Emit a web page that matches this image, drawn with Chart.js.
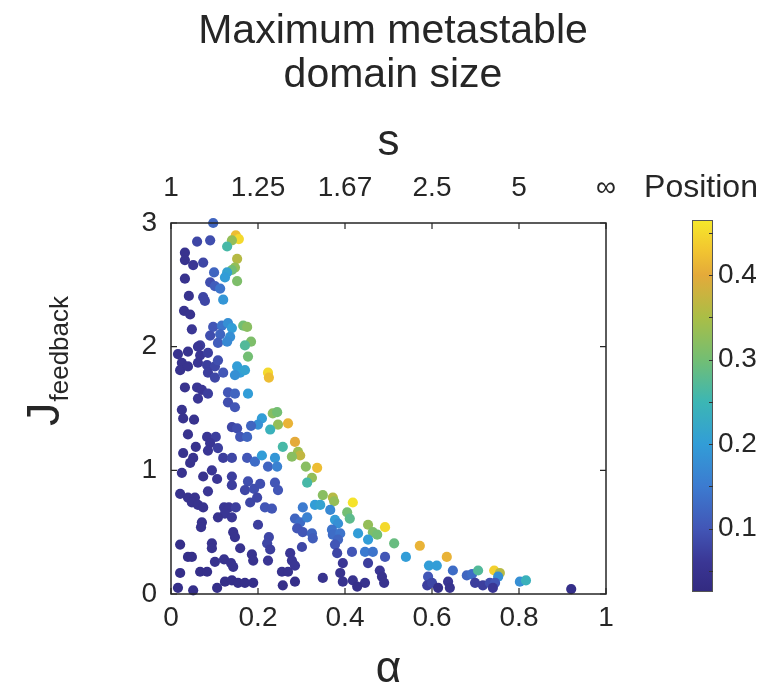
<!DOCTYPE html>
<html><head><meta charset="utf-8">
<script src="https://cdn.jsdelivr.net/npm/chart.js@4.4.0/dist/chart.umd.min.js"></script>
<style>html,body{margin:0;padding:0;background:#fff;}#wrap{width:766px;height:684px;}</style>
</head><body><div id="wrap"><canvas id="c" width="766" height="684"></canvas></div>
<script>
// ---- data ----
const alphaVals = [
 0.097,0.149,0.156,0.140,0.129,0.060,0.090,0.032,0.032,0.051,
 0.074,0.152,0.147,0.140,0.129,0.124,0.099,0.032,0.152,0.090,
 0.101,0.113,0.041,0.074,0.078,0.120,0.030,0.044,0.048,0.097,
 0.117,0.131,0.140,0.113,0.136,0.090,0.108,0.129,0.166,0.175,
 0.184,0.170,0.067,0.016,0.039,0.062,0.067,0.085,0.025,0.021,
 0.039,0.062,0.083,0.101,0.108,0.085,0.101,0.120,0.152,0.159,
 0.170,0.147,0.223,0.225,0.177,0.032,0.060,0.071,0.085,0.062,
 0.131,0.147,0.177,0.131,0.147,0.025,0.234,0.244,0.028,0.053,
 0.246,0.269,0.228,0.039,0.083,0.103,0.090,0.108,0.085,0.057,
 0.140,0.152,0.159,0.175,0.285,0.257,0.292,0.297,0.278,0.028,
 0.051,0.044,0.120,0.140,0.175,0.193,0.209,0.223,0.239,0.244,
 0.310,0.336,0.094,0.025,0.074,0.106,0.140,0.140,0.177,0.170,
 0.191,0.239,0.246,0.324,0.313,0.021,0.039,0.055,0.048,0.062,
 0.074,0.085,0.122,0.133,0.149,0.124,0.108,0.140,0.182,0.216,
 0.232,0.198,0.349,0.372,0.375,0.418,0.303,0.331,0.343,0.366,
 0.405,0.411,0.285,0.297,0.313,0.377,0.384,0.071,0.069,0.200,
 0.453,0.492,0.464,0.474,0.430,0.453,0.513,0.572,0.143,0.147,
 0.225,0.221,0.228,0.290,0.303,0.324,0.326,0.370,0.372,0.389,
 0.384,0.377,0.382,0.021,0.094,0.094,0.159,0.301,0.416,0.446,
 0.464,0.492,0.540,0.634,0.039,0.048,0.101,0.122,0.138,0.143,
 0.186,0.189,0.223,0.274,0.278,0.285,0.395,0.453,0.593,0.611,
 0.648,0.480,0.485,0.490,0.591,0.589,0.600,0.614,0.637,0.641,
 0.680,0.692,0.706,0.743,0.756,0.752,0.699,0.717,0.733,0.745,
 0.740,0.802,0.816,0.920,0.021,0.067,0.083,0.255,0.269,0.349,
 0.389,0.395,0.418,0.446,0.124,0.140,0.154,0.170,0.189,0.016,
 0.051,0.106,0.257,0.285,0.428,0.209,0.200,0.184,0.205];
const jVals = [
 3.00,2.90,2.87,2.86,2.81,2.85,2.86,2.76,2.70,2.66,
 2.68,2.71,2.64,2.62,2.60,2.56,2.60,2.55,2.53,2.52,
 2.49,2.47,2.41,2.40,2.37,2.38,2.29,2.26,2.14,2.16,
 2.17,2.19,2.15,2.10,2.08,2.09,2.03,2.04,2.17,2.16,
 2.04,2.01,2.01,1.94,1.96,2.00,1.93,1.95,1.87,1.81,
 1.84,1.87,1.85,1.84,1.89,1.79,1.75,1.79,1.84,1.79,
 1.81,1.77,1.79,1.75,1.92,1.67,1.67,1.65,1.62,1.58,
 1.63,1.62,1.62,1.55,1.51,1.49,1.46,1.47,1.42,1.41,
 1.37,1.38,1.33,1.29,1.27,1.27,1.22,1.18,1.16,1.19,
 1.35,1.34,1.27,1.27,1.23,1.19,1.15,1.12,1.11,1.14,
 1.10,1.06,1.10,1.10,1.10,1.07,1.12,1.03,1.10,1.03,
 1.03,1.02,1.00,0.98,0.95,0.93,0.95,0.88,0.91,0.84,
 0.85,0.90,0.84,0.94,0.90,0.81,0.78,0.78,0.74,0.72,
 0.70,0.83,0.70,0.70,0.70,0.65,0.62,0.62,0.74,0.70,
 0.69,0.78,0.80,0.78,0.75,0.74,0.70,0.72,0.72,0.68,
 0.66,0.61,0.61,0.58,0.62,0.60,0.57,0.58,0.54,0.56,
 0.56,0.54,0.50,0.48,0.49,0.44,0.41,0.39,0.50,0.46,
 0.46,0.41,0.36,0.53,0.50,0.49,0.45,0.52,0.48,0.49,
 0.44,0.40,0.33,0.40,0.41,0.37,0.37,0.38,0.34,0.34,
 0.34,0.30,0.30,0.30,0.30,0.30,0.26,0.28,0.25,0.22,
 0.32,0.27,0.27,0.33,0.27,0.23,0.25,0.25,0.23,0.23,
 0.19,0.19,0.14,0.09,0.14,0.07,0.09,0.05,0.10,0.05,
 0.15,0.16,0.19,0.19,0.17,0.14,0.09,0.07,0.09,0.09,
 0.05,0.10,0.11,0.04,0.17,0.18,0.18,0.18,0.18,0.13,
 0.17,0.10,0.11,0.09,0.10,0.11,0.09,0.09,0.09,0.05,
 0.03,0.05,0.07,0.10,0.06,1.42,1.37,1.36,0.89];
const posVals = [
 0.12,0.42,0.45,0.33,0.26,0.08,0.09,0.05,0.05,0.06,
 0.08,0.36,0.33,0.30,0.21,0.20,0.12,0.05,0.31,0.09,
 0.11,0.14,0.05,0.08,0.08,0.19,0.05,0.05,0.06,0.10,
 0.14,0.18,0.20,0.12,0.18,0.09,0.11,0.17,0.30,0.32,
 0.31,0.27,0.07,0.05,0.05,0.06,0.06,0.07,0.05,0.05,
 0.05,0.06,0.07,0.08,0.09,0.07,0.08,0.10,0.20,0.20,
 0.21,0.18,0.45,0.42,0.30,0.05,0.06,0.06,0.07,0.06,
 0.10,0.12,0.20,0.09,0.10,0.05,0.32,0.30,0.05,0.05,
 0.33,0.41,0.24,0.05,0.06,0.07,0.06,0.07,0.06,0.05,
 0.08,0.09,0.10,0.12,0.40,0.26,0.34,0.37,0.32,0.05,
 0.05,0.05,0.07,0.08,0.10,0.13,0.20,0.12,0.19,0.16,
 0.32,0.42,0.06,0.05,0.05,0.06,0.07,0.07,0.09,0.08,
 0.09,0.10,0.10,0.33,0.26,0.05,0.05,0.05,0.05,0.05,
 0.05,0.06,0.06,0.06,0.07,0.06,0.05,0.06,0.08,0.10,
 0.10,0.08,0.32,0.36,0.33,0.46,0.15,0.20,0.21,0.17,
 0.30,0.28,0.12,0.13,0.16,0.20,0.18,0.05,0.05,0.07,
 0.33,0.45,0.31,0.30,0.20,0.20,0.29,0.41,0.05,0.05,
 0.08,0.08,0.07,0.10,0.10,0.12,0.11,0.14,0.13,0.14,
 0.12,0.10,0.08,0.04,0.05,0.05,0.05,0.08,0.10,0.15,
 0.14,0.10,0.20,0.41,0.04,0.04,0.05,0.05,0.05,0.05,
 0.05,0.05,0.06,0.06,0.06,0.06,0.06,0.07,0.20,0.20,
 0.13,0.06,0.05,0.05,0.10,0.07,0.08,0.04,0.06,0.05,
 0.12,0.13,0.27,0.44,0.36,0.18,0.07,0.07,0.09,0.10,
 0.06,0.18,0.24,0.04,0.04,0.04,0.04,0.05,0.05,0.05,
 0.05,0.05,0.05,0.05,0.04,0.04,0.04,0.04,0.04,0.04,
 0.04,0.04,0.04,0.04,0.04,0.20,0.18,0.12,0.09];
const xTicks = [0, 0.2, 0.4, 0.6, 0.8, 1];
const xTickLabels = ['0', '0.2', '0.4', '0.6', '0.8', '1'];
const sTickLabels = ['1', '1.25', '1.67', '2.5', '5', '\u221E'];
const yTicks = [0, 1, 2, 3];
const yTickLabels = ['0', '1', '2', '3'];
const cbTicks = [0.1, 0.2, 0.3, 0.4];
const cbTickLabels = ['0.1', '0.2', '0.3', '0.4'];
const cbMinorTicks = [0.05, 0.15, 0.25, 0.35, 0.45];
const cbMin = 0.025, cbMax = 0.465;
const titleLines = ['Maximum metastable', 'domain size'];

// ---- colormap (parula-like, as seen in the reference colour bar) ----
const FONT = "'Liberation Sans', Arial, Helvetica, sans-serif";
const TXT = '#262626';
const cmapStops = [
 [0.025, [50, 42, 128]], [0.06, [58, 54, 148]], [0.10, [66, 86, 182]],
 [0.15, [60, 123, 208]], [0.20, [50, 157, 215]], [0.25, [60, 182, 180]],
 [0.30, [115, 190, 115]], [0.35, [170, 190, 70]], [0.40, [228, 170, 58]],
 [0.43, [242, 198, 48]], [0.465, [246, 232, 42]]];
function cmap(v) {
  v = Math.max(cbMin, Math.min(cbMax, v));
  for (let i = 1; i < cmapStops.length; i++) {
    const a = cmapStops[i-1], b = cmapStops[i];
    if (v <= b[0]) {
      const f = (v - a[0]) / (b[0] - a[0]);
      const c = [0,1,2].map(k => Math.round(a[1][k] + (b[1][k] - a[1][k]) * f));
      return `rgb(${c[0]},${c[1]},${c[2]})`;
    }
  }
  const l = cmapStops[cmapStops.length-1][1];
  return `rgb(${l[0]},${l[1]},${l[2]})`;
}

const points = alphaVals.map((a, i) => ({x: a, y: jVals[i]}));

const decor = {
  id: 'decor',
  afterDatasetsDraw(chart) {
    const {ctx, chartArea: ca, scales} = chart;
    ctx.save();
    ctx.strokeStyle = TXT;
    ctx.lineWidth = 1.5;
    ctx.strokeRect(ca.left, ca.top, ca.right - ca.left, ca.bottom - ca.top);
    ctx.lineWidth = 1.2;
    ctx.beginPath();
    xTicks.forEach(v => {
      const x = scales.x.getPixelForValue(v);
      ctx.moveTo(x, ca.bottom); ctx.lineTo(x, ca.bottom - 6);
      ctx.moveTo(x, ca.top); ctx.lineTo(x, ca.top + 6);
    });
    yTicks.forEach(v => {
      const y = scales.y.getPixelForValue(v);
      ctx.moveTo(ca.left, y); ctx.lineTo(ca.left + 6, y);
      ctx.moveTo(ca.right, y); ctx.lineTo(ca.right - 6, y);
    });
    ctx.stroke();
    ctx.restore();

    // main title
    ctx.save();
    ctx.fillStyle = TXT;
    ctx.textAlign = 'center';
    ctx.textBaseline = 'middle';
    ctx.font = '41px ' + FONT;
    titleLines.forEach((t, i) => ctx.fillText(t, 393, 32 + i * 44));
    ctx.restore();

    // y axis label J_feedback
    ctx.save();
    ctx.translate(59, 426);
    ctx.rotate(-Math.PI / 2);
    ctx.fillStyle = TXT;
    ctx.textAlign = 'left';
    ctx.textBaseline = 'alphabetic';
    ctx.font = '47px ' + FONT;
    ctx.fillText('J', 0, 0);
    const w = ctx.measureText('J').width;
    ctx.font = '26px ' + FONT;
    ctx.fillText('feedback', w + 1, 9);
    ctx.restore();

    // colour bar
    const cx0 = 692, cx1 = 713, cy0 = 220, cy1 = 592;
    const vy = v => cy1 - (v - cbMin) / (cbMax - cbMin) * (cy1 - cy0);
    ctx.save();
    const g = ctx.createLinearGradient(0, cy1, 0, cy0);
    cmapStops.forEach(s => g.addColorStop((s[0] - cbMin) / (cbMax - cbMin), `rgb(${s[1][0]},${s[1][1]},${s[1][2]})`));
    ctx.fillStyle = g;
    ctx.fillRect(cx0, cy0, cx1 - cx0, cy1 - cy0);
    ctx.strokeStyle = '#555';
    ctx.lineWidth = 1;
    ctx.strokeRect(cx0 + 0.5, cy0 + 0.5, cx1 - cx0 - 1, cy1 - cy0 - 1);
    ctx.strokeStyle = '#333';
    ctx.beginPath();
    cbTicks.concat(cbMinorTicks).forEach(v => {
      const y = Math.round(vy(v)) + 0.5;
      ctx.moveTo(cx1, y); ctx.lineTo(cx1 - 4, y);
    });
    ctx.stroke();
    ctx.fillStyle = TXT;
    ctx.font = '28px ' + FONT;
    ctx.textAlign = 'left';
    ctx.textBaseline = 'middle';
    cbTicks.forEach((v, i) => ctx.fillText(cbTickLabels[i], cx1 + 5, vy(v)));
    ctx.font = '32px ' + FONT;
    ctx.textAlign = 'center';
    ctx.fillText('Position', 701, 188);
    ctx.restore();
  }
};

new Chart(document.getElementById('c'), {
  type: 'scatter',
  data: {
    datasets: [{
      data: points,
      pointBackgroundColor: posVals.map(cmap),
      pointBorderWidth: 0,
      pointRadius: 5.1,
      pointHoverRadius: 5.1,
      clip: false
    }]
  },
  options: {
    responsive: false,
    animation: false,
    devicePixelRatio: 1,
    layout: {padding: {left: 0, right: 160, top: 0, bottom: 0}},
    plugins: {
      legend: {display: false},
      tooltip: {enabled: false},
      title: {display: false}
    },
    scales: {
      x: {
        type: 'linear', position: 'bottom', min: 0, max: 1,
        afterBuildTicks: s => { s.ticks = xTicks.map(v => ({value: v})); },
        ticks: {callback: (v, i) => xTickLabels[i], color: TXT, font: {family: FONT, size: 28}, padding: 7, maxRotation: 0, autoSkip: false},
        grid: {display: false, drawTicks: false},
        border: {display: false},
        title: {display: true, text: '\u03B1', color: TXT, font: {family: FONT, size: 44, lineHeight: 0.65}, padding: {top: 0, bottom: 0}},
        afterFit: s => { s.height = 90; }
      },
      x2: {
        type: 'linear', position: 'top', min: 0, max: 1,
        afterBuildTicks: s => { s.ticks = xTicks.map(v => ({value: v})); },
        ticks: {callback: (v, i) => sTickLabels[i], color: TXT, font: {family: FONT, size: 28}, padding: 18, maxRotation: 0, autoSkip: false},
        grid: {display: false, drawTicks: false},
        border: {display: false},
        title: {display: true, text: 's', color: TXT, font: {family: FONT, size: 44, lineHeight: 1}, padding: {top: 121, bottom: 0}},
        afterFit: s => { s.height = 223; }
      },
      y: {
        type: 'linear', position: 'left', min: 0, max: 3,
        afterBuildTicks: s => { s.ticks = yTicks.map(v => ({value: v})); },
        ticks: {callback: (v, i) => yTickLabels[i], color: TXT, font: {family: FONT, size: 28}, padding: 14, autoSkip: false},
        grid: {display: false, drawTicks: false},
        border: {display: false},
        afterFit: s => { s.width = 171; }
      }
    }
  },
  plugins: [decor]
});
</script>
</body></html>
